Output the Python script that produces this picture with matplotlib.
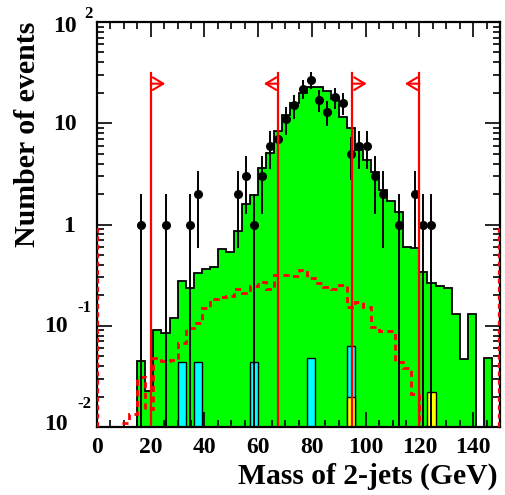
import numpy as np
import matplotlib
matplotlib.use('Agg')
import matplotlib.pyplot as plt
from matplotlib.ticker import MultipleLocator, LogLocator, NullFormatter

plt.rcParams['font.family'] = ['Liberation Serif', 'DejaVu Serif']
plt.rcParams['font.weight'] = 'bold'

# ---------------- data (3 GeV bins from 0 to 150) ----------------
bin_edges = np.arange(0, 151, 3)

mc_total = [0, 0, 0, 0, 0, 0.045, 0.0227, 0.091, 0.085, 0.119,
            0.277, 0.235, 0.33, 0.363, 0.38, 0.57, 0.53, 0.86, 1.6, 1.96,
            3.6, 5.1, 8.4, 12.0, 15.8, 19.8, 22.6, 22.6, 21.0, 17.5,
            11.5, 8.9, 5.4, 4.3, 3.3, 2.2, 1.7, 1.34, 0.60, 0.58,
            0.34, 0.266, 0.245, 0.234, 0.130, 0.047, 0.130, 0, 0.048, 0]

signal = [0, 0, 0, 0.011, 0.0135, 0.031, 0.015, 0.048, 0.045, 0.046,
          0.068, 0.094, 0.106, 0.149, 0.183, 0.194, 0.197, 0.229, 0.21, 0.245,
          0.272, 0.23, 0.317, 0.317, 0.308, 0.355, 0.295, 0.262, 0.243, 0.229,
          0.253, 0.154, 0.17, 0.153, 0.098, 0.089, 0.089, 0.044, 0.038, 0.021,
          0.009, 0.009, 0, 0, 0, 0, 0, 0, 0, 0]

cyan_bins = [10, 12, 19, 26, 31]
cyan_vals = [0.044, 0.044, 0.044, 0.048, 0.0635]

yellow_bins = [31, 41]
yellow_vals = [0.02, 0.0223]

data_bins = [5, 8, 11, 12, 17, 18, 19, 20, 21, 22, 23, 24, 25, 26, 27, 28, 29,
             30, 31, 32, 33, 34, 35, 37, 39, 40, 41]
data_counts = [1, 1, 1, 2, 2, 3, 1, 3, 6, 7, 11, 15, 22, 27, 17, 13, 18,
               16, 5, 6, 6, 3, 2, 1, 2, 1, 1]

cut_positions = [20, 67.5, 95, 120]
cut_directions = [1, -1, 1, -1]

x_ticks = [0, 20, 40, 60, 80, 100, 120, 140]

# ---------------- figure ----------------
W, H = 506, 495
fig = plt.figure(figsize=(W / 100, H / 100), dpi=100)
ax = fig.add_axes([97 / W, 1 - 427 / H, 403 / W, 405 / H])
ax.set_yscale('log')
ax.set_xlim(0, 150)
ax.set_ylim(0.01, 100)

floor = 1e-6
edges = bin_edges
centers = 0.5 * (edges[:-1] + edges[1:])
g = np.array(mc_total, dtype=float)
g = np.where(g > 0, g, floor)
ax.stairs(g, edges, baseline=floor, fill=True, color='#00ff00', zorder=1)
ax.stairs(g, edges, baseline=floor, color='black', lw=1.3, zorder=2)

# cyan and yellow components
ax.bar(centers[cyan_bins], cyan_vals, width=3, bottom=floor, color='#00ffff',
       edgecolor='black', lw=1.0, zorder=3)
ax.bar(centers[yellow_bins], yellow_vals, width=3, bottom=floor, color='#ffff00',
       edgecolor='black', lw=1.0, zorder=3.5)

# signal dashed histogram
s = np.array(signal, dtype=float)
s = np.where(s > 0, s, floor)
ax.stairs(s, edges, baseline=None, color='red', lw=2.0, ls=(0, (2.2, 1.6)), zorder=4)
ax.vlines([0.45, 149.55], 0.01, 1.0, colors='red', lw=1.6,
          linestyles=(0, (2.2, 1.6)), zorder=9)

# data points
n = np.array(data_counts, dtype=float)
err = np.sqrt(n)
lo = n - np.maximum(n - err, floor)
hi = err
ax.errorbar(centers[data_bins], n, yerr=[lo, hi], fmt='o', color='black',
            ms=5.5, elinewidth=1.4, capsize=0, zorder=6)

# cut lines with arrows
for xc, d in zip(cut_positions, cut_directions):
    ax.plot([xc, xc], [0.01, 31.6], color='red', lw=1.6, zorder=7)
    ax.annotate('', xy=(xc + d * 5.4, 24.6), xytext=(xc, 24.6),
                arrowprops=dict(arrowstyle='->,head_length=0.75,head_width=0.45',
                                color='red', lw=1.5, shrinkA=0, shrinkB=0,
                                mutation_scale=10),
                zorder=7)

# ticks
ax.set_xticks(x_ticks)
ax.xaxis.set_minor_locator(MultipleLocator(5))
ax.yaxis.set_major_locator(LogLocator(base=10, numticks=10))
ax.yaxis.set_minor_locator(LogLocator(base=10, subs=np.arange(2, 10), numticks=20))
ax.yaxis.set_minor_formatter(NullFormatter())
ax.tick_params(which='both', direction='in', top=True, right=True, width=1.2)
ax.tick_params(which='major', length=10.5)
ax.tick_params(which='minor', length=5)
ax.tick_params(axis='y', labelleft=False)
ax.tick_params(axis='x', labelsize=17, pad=7)
for lab in ax.get_xticklabels():
    lab.set_fontweight('bold')
for sp in ax.spines.values():
    sp.set_linewidth(1.6)
    sp.set_zorder(8)

# y tick labels (ROOT style)
def ftxt(px, py, t, size, ha):
    fig.text(px / W, 1 - py / H, t, fontsize=size, fontweight='bold',
             ha=ha, va='center')

ftxt(77, 26, '10', 17, 'right')
ftxt(84, 14, '2', 12, 'left')
ftxt(77, 124, '10', 17, 'right')
ftxt(75, 226, '1', 17, 'right')
ftxt(68, 326, '10', 17, 'right')
ftxt(77, 308, '-1', 12, 'left')
ftxt(68, 425, '10', 17, 'right')
ftxt(77, 404, '-2', 12, 'left')

# axis titles
fig.text(498 / W, 1 - 476 / H, 'Mass of 2-jets (GeV)', fontsize=21.3,
         fontweight='bold', ha='right', va='center')
fig.text(28 / W, 1 - 22 / H, 'Number of events', fontsize=21.5,
         fontweight='bold', ha='center', va='top', rotation=90)

fig.savefig('out.png', dpi=100)
